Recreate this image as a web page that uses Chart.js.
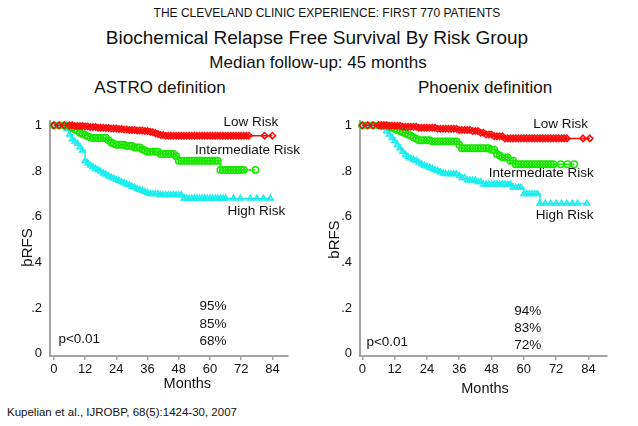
<!DOCTYPE html>
<html>
<head>
<meta charset="utf-8">
<script src="https://cdn.jsdelivr.net/npm/chart.js@4.4.1/dist/chart.umd.min.js"></script>
<style>
  body { margin: 0; background: #fff; width: 638px; height: 426px; position: relative; overflow: hidden; font-family: "Liberation Sans", Arial, sans-serif; color: #111; }
  .t { position: absolute; white-space: nowrap; line-height: 1; transform: translateX(-50%); }
  canvas { position: absolute; }
</style>
</head>
<body>
<div class="t" style="left:327px; top:7px; font-size:12px;">THE CLEVELAND CLINIC EXPERIENCE: FIRST 770 PATIENTS</div>
<div class="t" style="left:317px; top:28px; font-size:19px;">Biochemical Relapse Free Survival By Risk Group</div>
<div class="t" style="left:318px; top:54px; font-size:17px;">Median follow-up: 45 months</div>
<div class="t" style="left:160px; top:79px; font-size:17px;">ASTRO definition</div>
<div class="t" style="left:485px; top:79px; font-size:17px;">Phoenix definition</div>
<div style="position:absolute; left:7px; top:407px; font-size:11.5px; line-height:1; white-space:nowrap;">Kupelian et al., IJROBP, 68(5):1424-30, 2007</div>

<canvas id="astroChart" width="310" height="295" style="left:0; top:105px;"></canvas>
<canvas id="phoenixChart" width="328" height="295" style="left:310px; top:105px;"></canvas>

<script>
// Kaplan-Meier estimates: [month, bRFS]
const astroLow = [[0,1],[2,1],[4,1],[6,1],[7,1],[8,0.997],[9,0.997],[10,0.997],[11,0.997],[12,0.995],[13,0.995],
  [14,0.993],[15,0.993],[16,0.993],[17,0.99],[18,0.99],[19,0.99],[20,0.988],[21,0.988],[22,0.986],[23,0.986],
  [24,0.986],[25,0.984],[26,0.984],[27,0.982],[28,0.982],[29,0.98],[30,0.98],[31,0.98],[32,0.978],[33,0.978],
  [34,0.978],[35,0.975],[36,0.975],[37,0.972],[38,0.97],[39,0.966],[40,0.962],[41,0.958],[42,0.958],[43,0.955],
  [44,0.955],[45,0.955],[46,0.955],[47,0.955],[48,0.955],[49,0.955],[50,0.955],[51,0.955],[52,0.955],[53,0.955],
  [54,0.955],[55,0.955],[56,0.955],[57,0.955],[58,0.955],[59,0.955],[60,0.955],[61,0.955],[62,0.955],[63,0.955],
  [64,0.955],[65,0.955],[66,0.955],[67,0.955],[68,0.955],[69,0.955],[70,0.955],[71,0.955],[72,0.955],[73,0.955],
  [74,0.955],[75,0.955],[81,0.955],[84,0.955]];
const astroInt = [[0,1],[2,1],[4,1],[5,1],[6,0.995],[7,0.99],[8,0.983],[9,0.976],[10,0.968],[11,0.962],[12,0.958],
  [13,0.952],[14,0.948],[15,0.945],[16,0.945],[17,0.945],[18,0.945],[19,0.945],[20,0.945],[21,0.935],[22,0.925],
  [23,0.92],[24,0.915],[25,0.915],[26,0.915],[27,0.915],[28,0.91],[29,0.91],[30,0.91],[31,0.903],[32,0.903],
  [33,0.903],[34,0.895],[35,0.89],[36,0.885],[37,0.885],[38,0.885],[39,0.885],[40,0.885],[41,0.875],[42,0.875],
  [43,0.875],[44,0.875],[45,0.875],[46,0.875],[47,0.865],[48,0.845],[49,0.845],[50,0.845],[51,0.845],[52,0.845],
  [53,0.845],[54,0.845],[55,0.845],[56,0.845],[57,0.845],[58,0.845],[59,0.845],[60,0.845],[61,0.845],[62,0.845],
  [63,0.845],[64,0.805],[65,0.805],[66,0.805],[67,0.805],[68,0.805],[69,0.805],[70,0.805],[71,0.805],[72,0.805],
  [73,0.805],[77.5,0.805]];
const astroHigh = [[0,1],[2,1],[4,1],[5,0.985],[6,0.96],[7,0.94],[8,0.93],[9,0.92],[10,0.905],[11,0.89],[12,0.845],
  [13,0.835],[14,0.825],[15,0.818],[16,0.81],[17,0.805],[18,0.798],[19,0.79],[20,0.785],[21,0.778],[22,0.772],
  [23,0.768],[24,0.762],[25,0.758],[26,0.752],[27,0.748],[28,0.742],[29,0.738],[30,0.732],[31,0.728],[32,0.722],
  [33,0.718],[34,0.714],[35,0.71],[36,0.705],[37,0.7],[38,0.7],[39,0.7],[40,0.7],[41,0.695],[42,0.695],[43,0.695],
  [44,0.695],[45,0.695],[46,0.695],[47,0.695],[48,0.695],[49,0.695],[50,0.68],[51,0.68],[52,0.68],[53,0.68],
  [54,0.68],[55,0.68],[56,0.68],[57,0.68],[58,0.68],[59,0.68],[60,0.68],[61,0.68],[62,0.68],[63,0.68],[64,0.68],
  [65,0.68],[66,0.68],[69,0.68],[71.7,0.68],[75.5,0.68],[78,0.68],[80.6,0.68],[83.2,0.68]];

const phoenixLow = [[0,1],[2,1],[4,1],[6,1],[7,1],[8,1],[9,1],[10,0.998],[11,0.998],[12,0.998],[13,0.998],[14,0.998],
  [15,0.994],[16,0.994],[17,0.994],[18,0.994],[19,0.994],[20,0.994],[21,0.99],[22,0.99],[23,0.99],[24,0.99],
  [25,0.99],[26,0.99],[27,0.99],[28,0.985],[29,0.985],[30,0.985],[31,0.985],[32,0.985],[33,0.985],[34,0.985],
  [35,0.985],[36,0.98],[37,0.98],[38,0.98],[39,0.98],[40,0.98],[41,0.975],[42,0.975],[43,0.975],[44,0.968],
  [45,0.968],[46,0.96],[47,0.96],[48,0.96],[49,0.952],[50,0.952],[51,0.952],[52,0.952],[53,0.943],[54,0.943],
  [55,0.943],[56,0.943],[57,0.943],[58,0.943],[59,0.943],[60,0.943],[61,0.943],[62,0.943],[63,0.943],[64,0.943],
  [65,0.943],[66,0.943],[67,0.943],[68,0.943],[69,0.943],[70,0.943],[71,0.943],[72,0.943],[73,0.943],[74,0.943],
  [75,0.943],[76,0.943],[82,0.943],[84.5,0.943]];
const phoenixInt = [[0,1],[2,1],[4,1],[6,1],[7,1],[8,1],[9,1],[10,0.995],[11,0.99],[12,0.985],[13,0.98],[14,0.975],
  [15,0.97],[16,0.965],[17,0.96],[18,0.955],[19,0.948],[20,0.942],[21,0.935],[22,0.935],[23,0.935],[24,0.935],
  [25,0.935],[26,0.93],[27,0.93],[28,0.93],[29,0.93],[30,0.93],[31,0.93],[32,0.93],[33,0.93],[34,0.93],[35,0.93],
  [36,0.915],[37,0.9],[38,0.9],[39,0.9],[40,0.9],[41,0.9],[42,0.9],[43,0.9],[44,0.9],[45,0.9],[46,0.9],[47,0.9],
  [48,0.893],[49,0.893],[50,0.875],[51,0.868],[52,0.86],[53,0.86],[54,0.86],[55,0.845],[56,0.845],[57,0.83],
  [58,0.83],[59,0.83],[60,0.83],[61,0.83],[62,0.83],[63,0.83],[64,0.83],[65,0.83],[66,0.83],[67,0.83],[68,0.83],
  [69,0.83],[70,0.83],[71,0.83],[73.7,0.83],[76.2,0.83],[78.7,0.83]];
const phoenixHigh = [[0,1],[2,1],[4,1],[6,1],[7,1],[8,0.99],[9,0.975],[10,0.96],[11,0.945],[12,0.932],[13,0.915],
  [14,0.9],[15,0.885],[16,0.872],[17,0.862],[18,0.855],[19,0.85],[20,0.845],[21,0.838],[22,0.83],[23,0.825],
  [24,0.82],[25,0.815],[26,0.81],[27,0.805],[28,0.8],[29,0.795],[30,0.79],[31,0.787],[32,0.787],[33,0.787],
  [34,0.787],[35,0.787],[36,0.78],[37,0.77],[38,0.77],[39,0.76],[40,0.76],[41,0.76],[42,0.76],[43,0.752],[44,0.752],
  [45,0.742],[46,0.742],[47,0.742],[48,0.742],[49,0.742],[50,0.742],[51,0.742],[52,0.742],[53,0.742],[54,0.742],
  [55,0.742],[56,0.728],[57,0.728],[58,0.728],[59,0.728],[60,0.7],[61,0.7],[62,0.7],[63,0.7],[64,0.7],[65,0.7],
  [66,0.658],[68,0.658],[70,0.658],[72,0.658],[74,0.658],[76,0.658],[78,0.658],[80,0.658],[83.4,0.658]];

const monthTicks = [0, 12, 24, 36, 48, 60, 72, 84];
const survivalTicks = [0, 0.2, 0.4, 0.6, 0.8, 1];
const riskLabels = ['Low Risk', 'Intermediate Risk', 'High Risk'];
const astroFiveYear = ['95%', '85%', '68%'];
const phoenixFiveYear = ['94%', '83%', '72%'];

const AXIS_GREY = '#a3a3a3';
const FONT = '"Liberation Sans", Arial, sans-serif';

// writes free text at data coordinates of the chart
const textMarks = {
  id: 'textMarks',
  afterDraw(chart, args, opts) {
    const ctx = chart.ctx;
    const xs = chart.scales.x, ys = chart.scales.y;
    ctx.save();
    ctx.fillStyle = '#111';
    ctx.textAlign = 'center';
    ctx.textBaseline = 'middle';
    opts.items.forEach(function (it) {
      const px = xs.getPixelForValue(it.x);
      const py = ys.getPixelForValue(it.y);
      ctx.font = it.size + 'px ' + FONT;
      if (it.rotate) {
        ctx.save();
        ctx.translate(px, py);
        ctx.rotate(-Math.PI / 2);
        ctx.fillText(it.text, 0, 0);
        ctx.restore();
      } else {
        ctx.fillText(it.text, px, py);
      }
    });
    ctx.restore();
  }
};

function series(points, color, style) {
  return {
    data: points.map(p => ({ x: p[0], y: p[1] })),
    borderColor: color,
    backgroundColor: 'rgba(255,255,255,0)',
    borderWidth: 1.5,
    stepped: 'before',
    pointStyle: style,
    pointRadius: 3.2,
    pointBorderWidth: 1.5,
    pointBorderColor: color,
    pointBackgroundColor: 'rgba(255,255,255,0)',
    clip: false
  };
}

function makeChart(id, low, mid, high, xMin, xMax, padRight, padTop, items) {
  const ctx = document.getElementById(id).getContext('2d');
  return new Chart(ctx, {
    type: 'line',
    data: {
      datasets: [
        series(low, '#ff0a0a', 'rectRot'),
        series(mid, '#18e600', 'circle'),
        series(high, '#1aeeee', 'triangle')
      ]
    },
    options: {
      responsive: false,
      animation: false,
      devicePixelRatio: 1,
      layout: { padding: { left: 0, right: padRight, top: padTop, bottom: 0 } },
      plugins: { legend: { display: false }, tooltip: { enabled: false }, textMarks: { items: items } },
      scales: {
        x: {
          type: 'linear', min: xMin, max: xMax,
          afterBuildTicks: s => { s.ticks = monthTicks.map(v => ({ value: v })); },
          afterFit: s => { s.height = 44; },
          grid: { drawOnChartArea: false, drawTicks: true, tickLength: 4, color: AXIS_GREY, lineWidth: 1.5 },
          border: { display: true, color: AXIS_GREY, width: 2 },
          ticks: { color: '#111', font: { family: FONT, size: 13 }, padding: 2, maxRotation: 0 }
        },
        y: {
          type: 'linear', min: -0.01, max: 1.02,
          afterBuildTicks: s => { s.ticks = survivalTicks.map(v => ({ value: v })); },
          afterFit: s => { s.width = 50; },
          grid: { drawOnChartArea: false, drawTicks: false },
          border: { display: true, color: AXIS_GREY, width: 2 },
          ticks: {
            color: '#111', font: { family: FONT, size: 13 }, padding: 8,
            callback: v => (v === 0 || v === 1) ? String(v) : '.' + Math.round(v * 10)
          }
        }
      }
    },
    plugins: [textMarks]
  });
}

makeChart('astroChart', astroLow, astroInt, astroHigh, -1.5, 90, 22, 12, [
  { text: riskLabels[0], x: 75.7, y: 1.015, size: 13.5 },
  { text: riskLabels[1], x: 74.4, y: 0.892, size: 13.5 },
  { text: riskLabels[2], x: 77.8, y: 0.622, size: 13.5 },
  { text: astroFiveYear[0], x: 61.2, y: 0.207, size: 13.5 },
  { text: astroFiveYear[1], x: 61.2, y: 0.131, size: 13.5 },
  { text: astroFiveYear[2], x: 61.2, y: 0.056, size: 13.5 },
  { text: 'p<0.01', x: 9.75, y: 0.062, size: 13.5 },
  { text: 'Months', x: 51.3, y: -0.131, size: 14.5 },
  { text: 'bRFS', x: -10.2, y: 0.465, size: 15, rotate: true }
]);

makeChart('phoenixChart', phoenixLow, phoenixInt, phoenixHigh, -0.86, 90.9, 31, 10, [
  { text: riskLabels[0], x: 73.7, y: 1.003, size: 13.5 },
  { text: riskLabels[1], x: 66.5, y: 0.792, size: 13.5 },
  { text: riskLabels[2], x: 75.2, y: 0.605, size: 13.5 },
  { text: phoenixFiveYear[0], x: 61.5, y: 0.185, size: 13.5 },
  { text: phoenixFiveYear[1], x: 61.5, y: 0.112, size: 13.5 },
  { text: phoenixFiveYear[2], x: 61.5, y: 0.0375, size: 13.5 },
  { text: 'p<0.01', x: 9.25, y: 0.049, size: 13.5 },
  { text: 'Months', x: 45.6, y: -0.156, size: 14.5 },
  { text: 'bRFS', x: -10.1, y: 0.5, size: 15, rotate: true }
]);
</script>
</body>
</html>
